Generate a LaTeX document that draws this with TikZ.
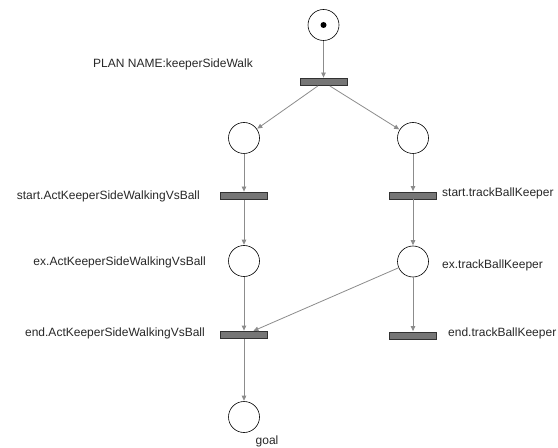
\documentclass[tikz,border=0pt]{standalone}
\usepackage{fontspec}
\setmainfont{Liberation Sans}
\usetikzlibrary{arrows.meta}
\definecolor{arcgray}{RGB}{140,140,140}
\definecolor{barfill}{RGB}{118,118,118}
\definecolor{bardraw}{RGB}{50,50,50}
\definecolor{labelcol}{RGB}{40,40,40}
\tikzset{
  place/.style={circle, draw=black, line width=0.6bp, fill=white, minimum size=31bp, inner sep=0pt},
  trans/.style={rectangle, draw=bardraw, fill=barfill, line width=0.8bp, minimum width=47bp, minimum height=7bp, inner sep=0pt},
  arc/.style={draw=arcgray, line width=0.8bp, -{Triangle[length=5bp,width=4.5bp]}, shorten >=0.5bp},
  lbl/.style={font=\fontsize{12bp}{14bp}\selectfont, text=labelcol, inner sep=0pt},
  token/.style={circle, fill=black, minimum size=6bp, inner sep=0pt}
}
\begin{document}
\begin{tikzpicture}[x=1bp, y=-1bp]
  \useasboundingbox[fill=white] (0,0) rectangle (558,448);

  % places
  \node[place] (p0) at (323.5,25) {};
  \node[token] (tok) at (323.5,25) {};
  \node[place] (p1) at (244,138) {};
  \node[place] (p2) at (413,138) {};
  \node[place] (p3) at (244,261) {};
  \node[place] (p4) at (413,261.5) {};
  \node[place] (p5) at (244,417) {};

  % transitions
  \node[trans] (t0) at (323.5,82) {};
  \node[trans] (t1) at (244,196) {};
  \node[trans] (t2) at (413,195.5) {};
  \node[trans] (t3) at (244,335) {};
  \node[trans] (t4) at (413,335.5) {};

  % arcs
  \draw[arc] (p0) -- (t0);
  \draw[arc] (t0) -- (p1);
  \draw[arc] (t0) -- (p2);
  \draw[arc] (p1) -- (t1);
  \draw[arc] (p2) -- (t2);
  \draw[arc] (t1) -- (p3);
  \draw[arc] (t2) -- (p4);
  \draw[arc] (p3) -- (t3);
  \draw[arc] (p4) -- (t3);
  \draw[arc] (p4) -- (t4);
  \draw[arc] (t3) -- (p5);

  % labels
  \node[lbl, anchor=mid west] (plan) at (93,65) {PLAN NAME:keeperSideWalk};
  \node[lbl, anchor=mid east] (l1) at (200,197) {start.ActKeeperSideWalkingVsBall};
  \node[lbl, anchor=mid west] (l2) at (442,194) {start.trackBallKeeper};
  \node[lbl, anchor=mid east] (l3) at (206,263) {ex.ActKeeperSideWalkingVsBall};
  \node[lbl, anchor=mid west] (l4) at (442,266) {ex.trackBallKeeper};
  \node[lbl, anchor=mid east] (l5) at (205,334) {end.ActKeeperSideWalkingVsBall};
  \node[lbl, anchor=mid west] (l6) at (448,334) {end.trackBallKeeper};
  \node[lbl, anchor=mid] (l7) at (267,442) {goal};
\end{tikzpicture}
\end{document}
